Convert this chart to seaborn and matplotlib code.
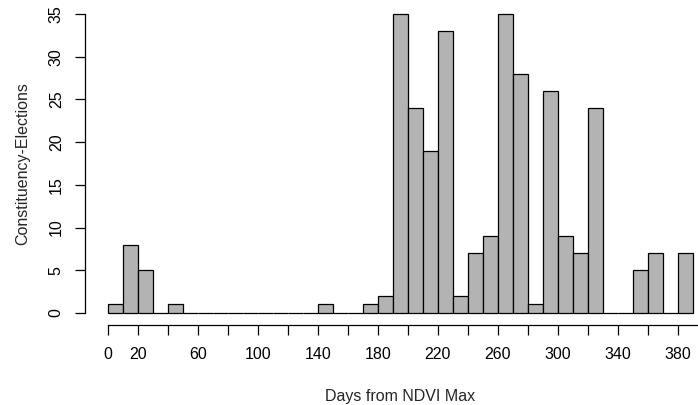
import matplotlib
matplotlib.use("Agg")
import matplotlib.pyplot as plt
import seaborn as sns
import numpy as np
import pandas as pd

# bin left edges (days) and counts per 10-day bin
bin_starts = [0, 10, 20, 30, 40, 50, 60, 70, 80, 90, 100, 110, 120, 130, 140, 150, 160, 170, 180, 190,
              200, 210, 220, 230, 240, 250, 260, 270, 280, 290, 300, 310, 320, 330, 340, 350, 360, 370, 380]
counts = [1, 8, 5, 0, 1, 0, 0, 0, 0, 0, 0, 0, 0, 0, 1, 0, 0, 1, 2, 35,
          24, 19, 33, 2, 7, 9, 35, 28, 1, 26, 9, 7, 24, 0, 0, 5, 7, 0, 7]
x_ticks = list(range(0, 400, 20))
x_labels = [0, 20, 60, 100, 140, 180, 220, 260, 300, 340, 380]
y_ticks = [0, 5, 10, 15, 20, 25, 30, 35]

df = pd.DataFrame({"day": np.array(bin_starts) + 5.0, "n": np.array(counts, dtype=float)})

sns.set_style("white")
plt.rcParams['font.family'] = ['Liberation Sans', 'DejaVu Sans']

fig = plt.figure(figsize=(6.98, 4.05), dpi=100)
ax = fig.add_axes([84.6 / 698, 80 / 405, (716 - 84.6) / 698, 323 / 405])

sns.histplot(data=df, x="day", weights="n", binwidth=10, binrange=(0, 390),
             color="#b3b3b3", alpha=1, edgecolor="black", linewidth=0.9, ax=ax)

ax.set_xlim(-15.6, 405.6)
ax.set_ylim(-1.4, 36.4)

for s in ["top", "right"]:
    ax.spines[s].set_visible(False)
ax.spines["left"].set_bounds(0, 35)
ax.spines["bottom"].set_bounds(0, 420)
for s in ["left", "bottom"]:
    ax.spines[s].set_color("black")
    ax.spines[s].set_linewidth(0.9)

ax.set_xticks(x_ticks)
ax.set_xticklabels([str(t) if t in x_labels else "" for t in x_ticks])
ax.set_yticks(y_ticks)
ax.set_yticklabels([str(t) for t in y_ticks], rotation=90, va="center")
ax.tick_params(axis="both", direction="out", length=7, width=0.9, color="black",
               labelsize=11.5, labelcolor="black", bottom=True, left=True)
ax.tick_params(axis="x", pad=9)
ax.tick_params(axis="y", pad=8)

ax.set_xlabel("Days from NDVI Max", fontsize=11.5, labelpad=19)
ax.set_ylabel("Constituency-Elections", fontsize=11.5, labelpad=13)

fig.savefig("out.png", dpi=100)
